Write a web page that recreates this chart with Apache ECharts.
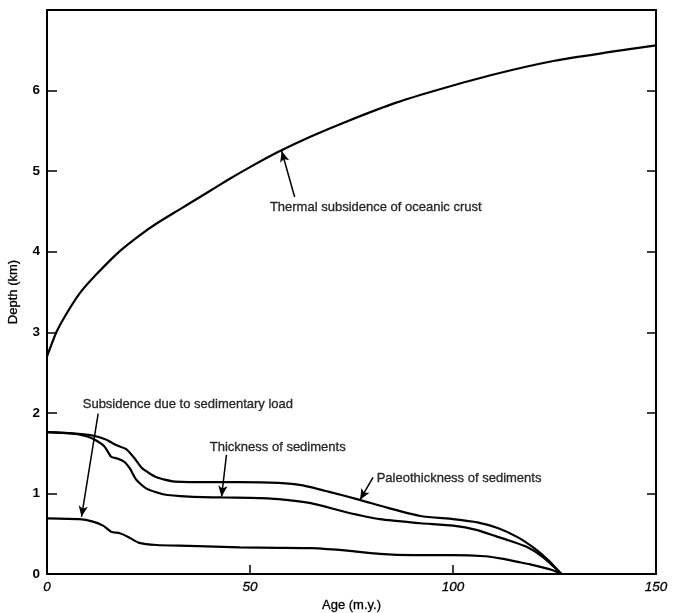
<!DOCTYPE html>
<html>
<head>
<meta charset="utf-8">
<script src="https://cdn.jsdelivr.net/npm/echarts@6/dist/echarts.min.js"></script>
<style>
html,body{margin:0;padding:0;background:#fff;}
#chart{width:678px;height:613px;}
</style>
</head>
<body>
<div id="chart"></div>
<script>
// Thermal subsidence of oceanic crust
const thermalAge   = [0, 2.3, 4.8, 8, 12, 18, 23, 27, 32.5, 39, 44.5, 50, 57, 65, 74, 86, 97, 110, 125, 137.5, 150];
const thermalDepth = [2.70, 3.0, 3.23, 3.48, 3.71, 4.01, 4.21, 4.35, 4.52, 4.72, 4.89, 5.05, 5.24, 5.43, 5.62, 5.85, 6.02, 6.20, 6.37, 6.47, 6.56];

// Paleothickness of sediments
const paleoAge   = [0, 6, 11, 14.5, 17, 19.5, 21.5, 23.5, 27, 31, 39, 47.5, 57, 63, 69.5, 77, 84, 92, 100, 106, 111, 116, 120, 123.5, 126.7];
const paleoDepth = [1.76, 1.745, 1.72, 1.67, 1.60, 1.55, 1.44, 1.31, 1.20, 1.15, 1.14, 1.14, 1.13, 1.10, 1.02, 0.92, 0.82, 0.72, 0.68, 0.64, 0.57, 0.455, 0.32, 0.17, 0];

// Thickness of sediments
const thickAge   = [0, 6, 9.7, 12, 14.2, 15.8, 17.5, 19.1, 20.4, 22, 24.5, 28.6, 35, 43, 50, 57, 65, 73.5, 82, 92, 100, 106, 110.5, 113, 118, 122, 126.7];
const thickDepth = [1.76, 1.745, 1.71, 1.66, 1.58, 1.455, 1.43, 1.39, 1.31, 1.17, 1.06, 0.99, 0.96, 0.95, 0.945, 0.93, 0.88, 0.77, 0.68, 0.63, 0.60, 0.545, 0.47, 0.43, 0.34, 0.215, 0];

// Subsidence due to sedimentary load
const loadAge   = [0, 8, 11.3, 13.8, 15.8, 17.9, 20, 22.5, 27, 35, 47.5, 57, 65, 74, 82, 90, 100, 108, 112, 116, 119, 124.4, 126.7];
const loadDepth = [0.69, 0.68, 0.65, 0.60, 0.525, 0.505, 0.46, 0.39, 0.36, 0.35, 0.33, 0.325, 0.32, 0.29, 0.25, 0.235, 0.235, 0.22, 0.19, 0.15, 0.12, 0.05, 0];

// Annotation texts: [age, depth] of text start
const annoText  = ['Thermal subsidence of oceanic crust', 'Subsidence due to sedimentary load', 'Thickness of sediments', 'Paleothickness of sediments'];
const annoPos   = [[54.9, 4.55], [8.8, 2.10], [40.1, 1.575], [81.2, 1.19]];
// Arrows: [tail, tip]
const arrowFrom = [[61, 4.68], [12.6, 1.99], [44.2, 1.48], [80.3, 1.20]];
const arrowTo   = [[57.8, 5.25], [8.5, 0.71], [43.0, 0.96], [77.1, 0.92]];

const xTicks = [0, 50, 100, 150];
const yTicks = [0, 1, 2, 3, 4, 5, 6];

const zip = (a, b) => a.map((v, i) => [v, b[i]]);
const INK = '#000';
const FONT = '"Liberation Sans", Arial, sans-serif';

const lineSeries = (name, a, d) => ({
  name, type: 'line', data: zip(a, d), showSymbol: false, symbol: 'none',
  smooth: 0.2,
  lineStyle: { color: INK, width: 2.2 }, z: 3
});

const chart = echarts.init(document.getElementById('chart'), null, { renderer: 'canvas' });
chart.setOption({
  backgroundColor: '#fff',
  animation: false,
  grid: { left: 47, right: 22, top: 10, bottom: 39, show: true, borderColor: INK, borderWidth: 2,
          containLabel: false, outerBoundsMode: 'none' },
  xAxis: {
    type: 'value', min: 0, max: 150, interval: 50,
    name: 'Age (m.y.)', nameLocation: 'middle', nameGap: 24,
    nameTextStyle: { color: INK, fontSize: 13, fontFamily: FONT, textBorderColor: INK, textBorderWidth: 0.3 },
    axisLine: { show: true, lineStyle: { color: INK, width: 2 } },
    axisTick: { show: true, inside: true, length: 9, lineStyle: { color: INK, width: 1.5 } },
    axisLabel: {
      color: INK, fontSize: 13.5, fontStyle: 'italic', fontFamily: FONT, margin: 6,
      textBorderColor: INK, textBorderWidth: 0.3,
      formatter: v => xTicks.includes(v) ? String(v) : '',
      align: 'center'
    },
    splitLine: { show: false }
  },
  yAxis: [{
    type: 'value', min: 0, max: 7, interval: 1, position: 'left',
    name: 'Depth (km)', nameLocation: 'middle', nameGap: 27, nameRotate: 90,
    nameTextStyle: { color: INK, fontSize: 13, fontFamily: FONT, textBorderColor: INK, textBorderWidth: 0.3 },
    axisLine: { show: true, lineStyle: { color: INK, width: 2 } },
    axisTick: { show: true, inside: true, length: 10, lineStyle: { color: INK, width: 1.5 } },
    axisLabel: {
      color: INK, fontSize: 13.5, fontWeight: 'bold', fontFamily: FONT, margin: 7,
      formatter: v => yTicks.includes(v) ? String(v) : ''
    },
    splitLine: { show: false }
  }, {
    type: 'value', min: 0, max: 7, interval: 1, position: 'right',
    axisLine: { show: true, lineStyle: { color: INK, width: 2 } },
    axisTick: { show: true, inside: true, length: 9, lineStyle: { color: INK, width: 1.5 } },
    axisLabel: { show: false },
    splitLine: { show: false }
  }],
  series: [
    lineSeries('Thermal subsidence of oceanic crust', thermalAge, thermalDepth),
    lineSeries('Paleothickness of sediments', paleoAge, paleoDepth),
    lineSeries('Thickness of sediments', thickAge, thickDepth),
    lineSeries('Subsidence due to sedimentary load', loadAge, loadDepth),
    {
      name: 'annotations', type: 'scatter', symbolSize: 0, z: 5,
      data: annoPos.map((p, i) => ({ value: p, name: annoText[i] })),
      label: {
        show: true, position: 'right', distance: 0, formatter: '{b}',
        color: INK, fontSize: 13, fontFamily: FONT,
        textBorderColor: INK, textBorderWidth: 0.35
      },
      emphasis: { disabled: true },
      markLine: {
        silent: true, symbol: ['none', 'arrow'], symbolSize: [7, 11],
        label: { show: false },
        lineStyle: { color: INK, width: 1.5, type: 'solid', opacity: 1 },
        data: arrowFrom.map((f, i) => [{ coord: f }, { coord: arrowTo[i] }])
      }
    }
  ]
});
</script>
</body>
</html>
